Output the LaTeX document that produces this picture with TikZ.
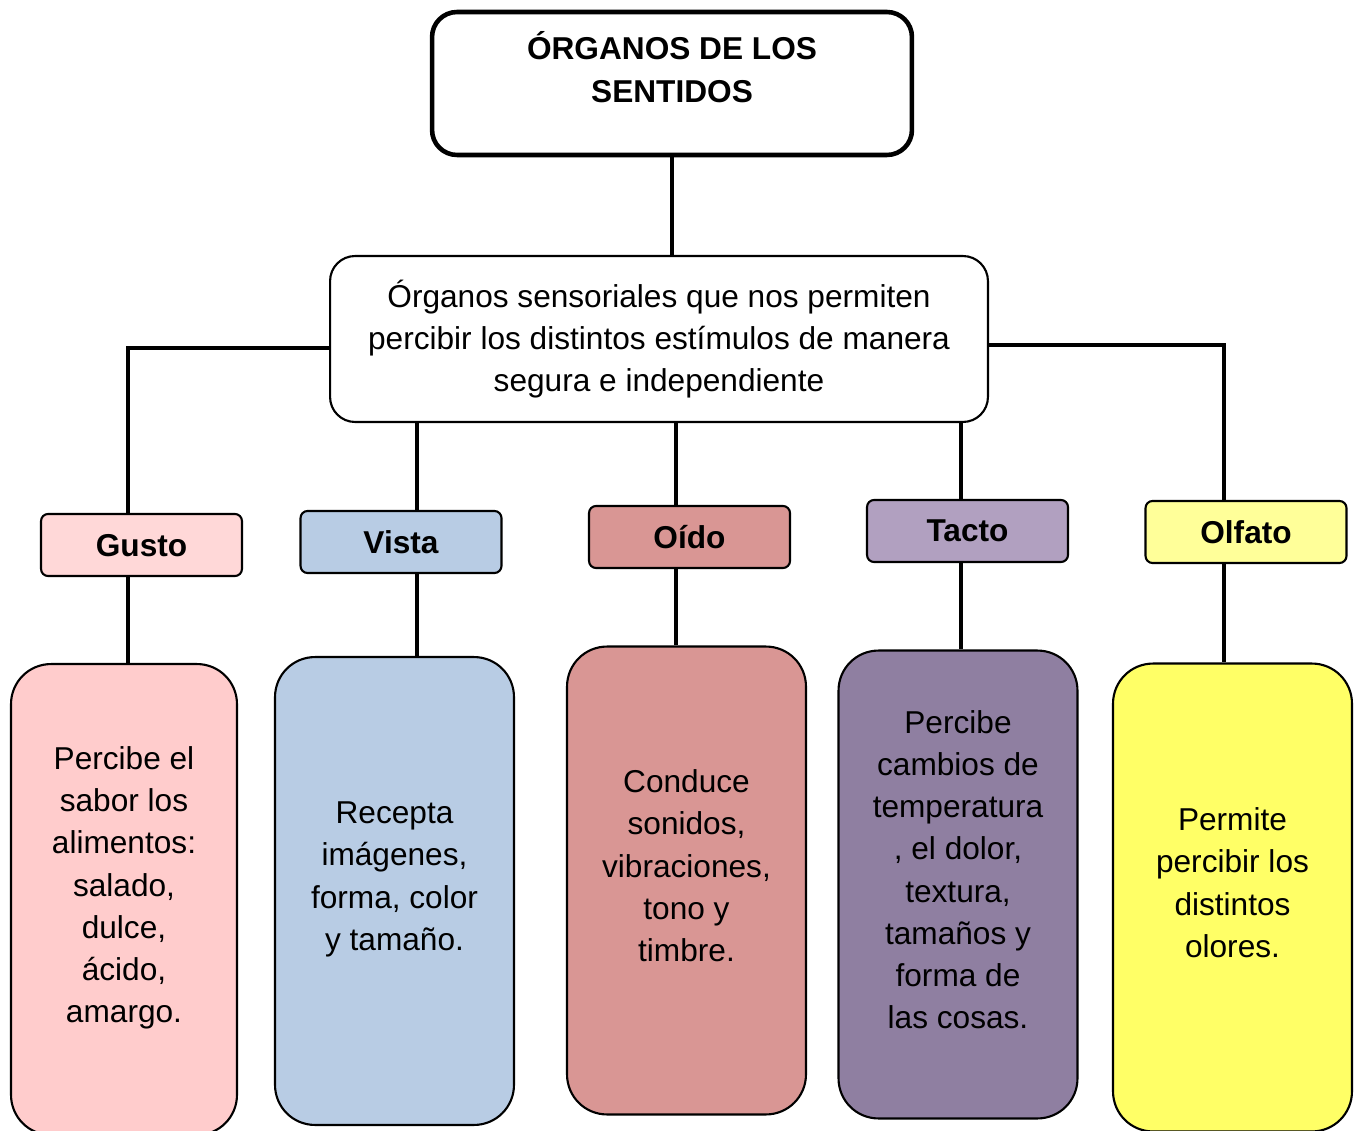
\documentclass[tikz,border=0pt]{standalone}
\usepackage{fontspec}
\setmainfont{Liberation Sans}
\usetikzlibrary{positioning, calc}
\definecolor{gustolt}{HTML}{FFD8D8}
\definecolor{gustobg}{HTML}{FFCCCC}
\definecolor{vistabg}{HTML}{B8CCE4}
\definecolor{oidobg}{HTML}{D99694}
\definecolor{tactolt}{HTML}{B1A0C0}
\definecolor{tactobg}{HTML}{8F7FA1}
\definecolor{olfatolt}{HTML}{FFFF99}
\definecolor{olfatobg}{HTML}{FFFF66}

\tikzset{
  link/.style={line width=1.8pt},
  sensebox/.style={draw, line width=1.2pt, rounded corners=4pt,
    minimum width=4.02cm, minimum height=1.24cm, text depth=0pt,
    font=\fontsize{18}{24}\selectfont\bfseries},
  infobox/.style={draw, line width=1.2pt, rounded corners=0.8cm,
    minimum width=4.78cm, minimum height=9.36cm, align=center,
    font=\fontsize{18}{24}\selectfont}
}

\begin{document}
\begin{tikzpicture}[x=0.02cm, y=-0.02cm]

\useasboundingbox (0,0) rectangle (1359,1131);

% Title
\node[draw, line width=2.6pt, rounded corners=0.5cm,
      minimum width=9.6cm, minimum height=2.86cm] (title) at (672,83.5) {};
\node[align=center, font=\fontsize{18}{24.5}\selectfont\bfseries]
      (titletext) at (672,67) {ÓRGANOS DE LOS\\SENTIDOS};

% Definition
\node[draw, line width=1.2pt, rounded corners=0.5cm, align=center,
      minimum width=13.16cm, minimum height=3.32cm,
      font=\fontsize{18}{24}\selectfont] (mid) at (659,339)
      {Órganos sensoriales que nos permiten\\
       percibir los distintos estímulos de manera\\
       segura e independiente};

% Senses
\node[sensebox, fill=gustolt]  (gusto)  at (141.5,545) {Gusto};
\node[sensebox, fill=vistabg]  (vista)  at (401,542)   {Vista};
\node[sensebox, fill=oidobg]   (oido)   at (689.5,537) {Oído};
\node[sensebox, fill=tactolt]  (tacto)  at (967.5,531) {Tacto};
\node[sensebox, fill=olfatolt] (olfato) at (1246,532)  {Olfato};

% Descriptions (empty last line lifts the text a little)
\node[infobox, fill=gustobg, minimum width=4.52cm, minimum height=9.42cm]
      (gustotxt) at (124,899.5)
      {Percibe el\\sabor los\\alimentos:\\salado,\\dulce,\\ácido,\\amargo.\\[-7pt]\mbox{}};
\node[infobox, fill=vistabg] (vistatxt) at (394.5,891)
      {Recepta\\imágenes,\\forma, color\\y tamaño.\\[-7pt]\mbox{}};
\node[infobox, fill=oidobg] (oidotxt) at (686.5,880.5)
      {Conduce\\sonidos,\\vibraciones,\\tono y\\timbre.\\[-7pt]\mbox{}};
\node[infobox, fill=tactobg] (tactotxt) at (958,884.5)
      {Percibe\\cambios de\\temperatura\\, el dolor,\\textura,\\tamaños y\\forma de\\las cosas.\\[-7pt]\mbox{}};
\node[infobox, fill=olfatobg] (olfatotxt) at (1232.5,897.5)
      {Permite\\percibir los\\distintos\\olores.\\[-7pt]\mbox{}};

% Columns of the connectors
\coordinate (cG) at (128,0);
\coordinate (cV) at (417,0);
\coordinate (cO) at (676,0);
\coordinate (cT) at (961,0);
\coordinate (cF) at (1224,0);

% Connectors
\draw[link] (title.south) -- (title.south |- mid.north);
\draw[link] ([yshift=-0.18cm]mid.west) -| (gusto.north -| cG);
\draw[link] ([yshift=-0.12cm]mid.east) -| (olfato.north -| cF);
\draw[link] (mid.south -| cV) -- (vista.north -| cV);
\draw[link] (mid.south -| cO) -- (oido.north -| cO);
\draw[link] (mid.south -| cT) -- (tacto.north -| cT);

\draw[link] (gusto.south -| cG)  -- (gustotxt.north -| cG);
\draw[link] (vista.south -| cV)  -- (vistatxt.north -| cV);
\draw[link] (oido.south -| cO)   -- (oidotxt.north -| cO);
\draw[link] (tacto.south -| cT)  -- (tactotxt.north -| cT);
\draw[link] (olfato.south -| cF) -- (olfatotxt.north -| cF);

\end{tikzpicture}
\end{document}
